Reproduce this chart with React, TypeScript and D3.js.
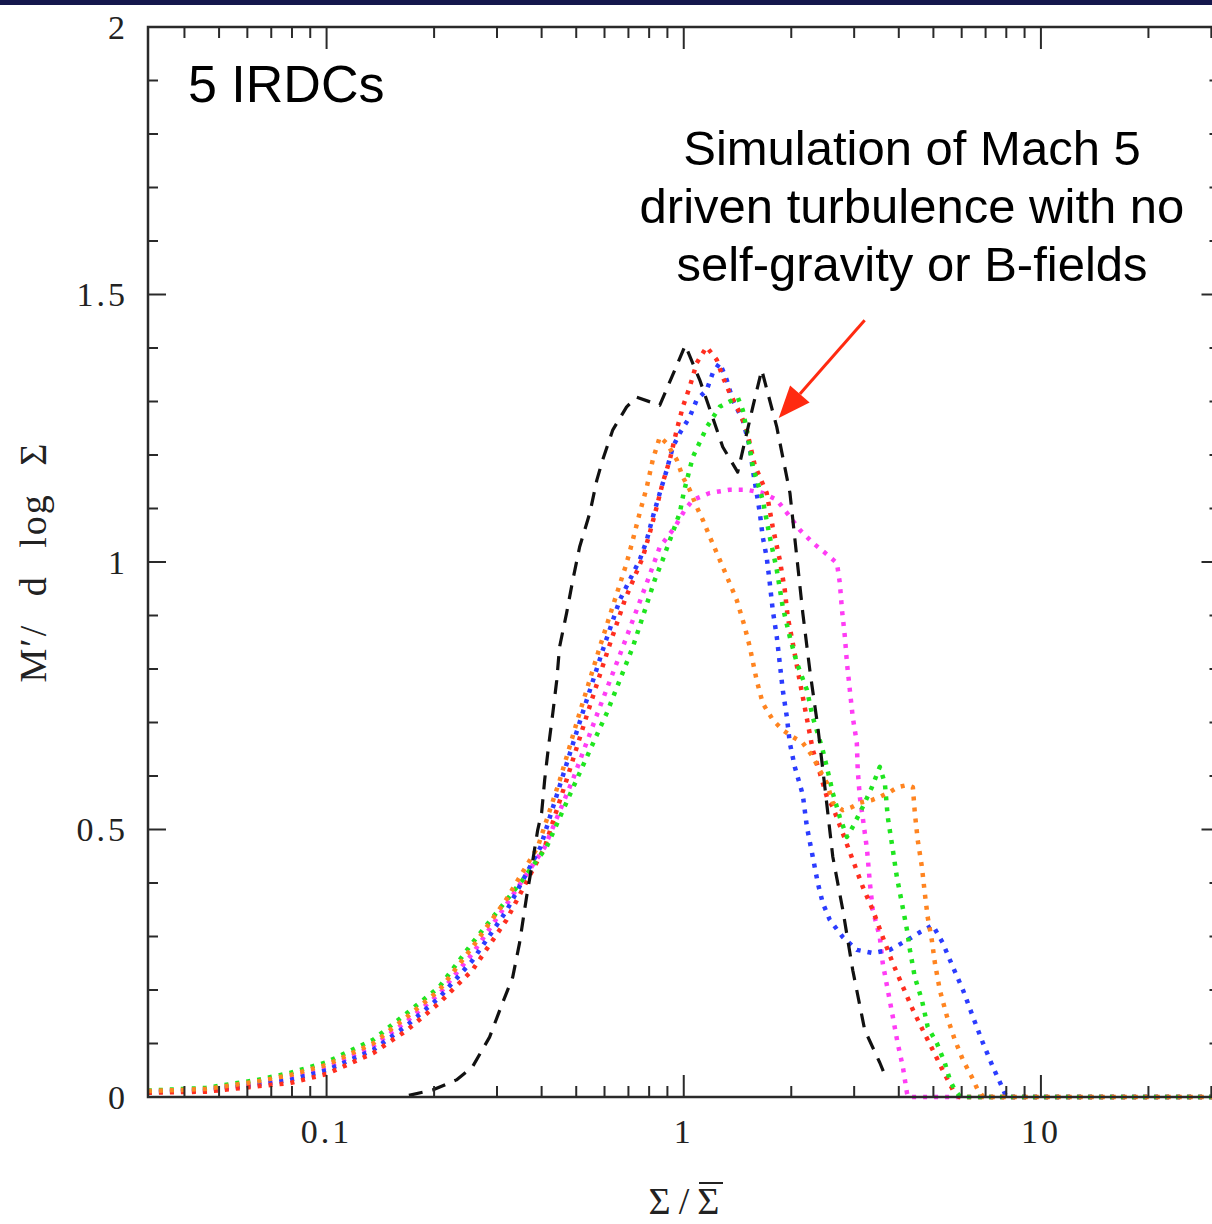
import React from 'react';
import * as d3 from 'd3';

// mass-weighted column density PDFs, [Sigma/Sigma_mean, M'/dlogSigma]
const simPdf = [
  [0.17, 0.003], [0.198, 0.013], [0.231, 0.032], [0.256, 0.056], [0.286, 0.112], [0.311, 0.176],
  [0.332, 0.224], [0.347, 0.288], [0.363, 0.374], [0.378, 0.443], [0.39, 0.499], [0.4, 0.531],
  [0.408, 0.593], [0.418, 0.654], [0.43, 0.718], [0.441, 0.779], [0.449, 0.841], [0.47, 0.905],
  [0.489, 0.966], [0.511, 1.028], [0.546, 1.092], [0.571, 1.153], [0.593, 1.191], [0.633, 1.247],
  [0.692, 1.29], [0.738, 1.308], [0.857, 1.293], [1.01, 1.405], [1.109, 1.34], [1.286, 1.215],
  [1.416, 1.168], [1.561, 1.29], [1.653, 1.359], [1.822, 1.252], [1.983, 1.129], [2.073, 1.009],
  [2.154, 0.905], [2.254, 0.798], [2.373, 0.692], [2.484, 0.579], [2.614, 0.449], [2.788, 0.35],
  [2.973, 0.237], [3.212, 0.125], [3.54, 0.064], [3.656, 0.041],
];

const redPdf = [
  [0.0316, 0.008], [0.046, 0.01], [0.064, 0.02], [0.079, 0.026], [0.1, 0.043], [0.135, 0.082],
  [0.168, 0.125], [0.207, 0.176], [0.256, 0.237], [0.319, 0.331], [0.408, 0.467], [0.47, 0.593],
  [0.538, 0.718], [0.617, 0.841], [0.684, 0.929], [0.768, 1.009], [0.803, 1.054], [0.84, 1.103],
  [0.873, 1.148], [0.914, 1.191], [0.956, 1.247], [0.994, 1.29], [1.039, 1.327], [1.087, 1.372],
  [1.159, 1.402], [1.237, 1.378], [1.286, 1.346], [1.345, 1.316], [1.435, 1.279], [1.501, 1.247],
  [1.58, 1.181], [1.707, 1.129], [1.775, 1.065], [1.857, 1.004], [1.918, 0.948], [1.955, 0.897],
  [2.019, 0.849], [2.084, 0.798], [2.154, 0.748], [2.224, 0.699], [2.297, 0.649], [2.404, 0.606],
  [2.516, 0.561], [2.614, 0.542], [2.788, 0.493], [2.973, 0.443], [3.17, 0.393], [3.381, 0.35],
  [3.607, 0.299], [3.849, 0.25], [4.107, 0.206], [4.38, 0.163], [4.67, 0.125], [4.98, 0.088],
  [5.31, 0.05], [5.67, 0.013], [5.9, 0], [31.6, 0],
];

const bluePdf = [
  [0.0316, 0.009], [0.046, 0.012], [0.064, 0.023], [0.079, 0.032], [0.1, 0.05], [0.135, 0.088],
  [0.168, 0.134], [0.207, 0.186], [0.256, 0.255], [0.319, 0.348], [0.397, 0.467], [0.455, 0.593],
  [0.521, 0.718], [0.597, 0.841], [0.662, 0.929], [0.753, 1.004], [0.788, 1.041], [0.819, 1.084],
  [0.857, 1.129], [0.896, 1.172], [0.932, 1.215], [0.975, 1.241], [1.039, 1.271], [1.087, 1.303],
  [1.159, 1.321], [1.205, 1.353], [1.261, 1.372], [1.32, 1.34], [1.371, 1.303], [1.463, 1.265],
  [1.531, 1.215], [1.561, 1.172], [1.6, 1.129], [1.633, 1.092], [1.664, 1.047], [1.707, 1.009],
  [1.741, 0.961], [1.775, 0.91], [1.822, 0.86], [1.857, 0.811], [1.893, 0.761], [1.944, 0.71],
  [1.981, 0.662], [2.046, 0.617], [2.154, 0.565], [2.212, 0.505], [2.297, 0.449], [2.373, 0.4],
  [2.449, 0.363], [2.564, 0.331], [2.788, 0.299], [3.052, 0.275], [3.381, 0.269], [3.776, 0.275],
  [4.218, 0.293], [4.583, 0.308], [4.98, 0.321], [5.31, 0.288], [5.67, 0.243], [6.05, 0.2],
  [6.45, 0.15], [6.88, 0.101], [7.34, 0.056], [7.78, 0.019], [8.0, 0], [31.6, 0],
];

const greenPdf = [
  [0.0316, 0.012], [0.046, 0.017], [0.064, 0.032], [0.079, 0.045], [0.1, 0.065], [0.135, 0.107],
  [0.168, 0.157], [0.207, 0.206], [0.256, 0.288], [0.319, 0.368], [0.354, 0.406], [0.413, 0.467],
  [0.501, 0.593], [0.609, 0.718], [0.72, 0.841], [0.829, 0.966], [0.873, 1.004], [0.975, 1.092],
  [1.0, 1.13], [1.06, 1.196], [1.16, 1.252], [1.261, 1.29], [1.416, 1.308], [1.463, 1.284],
  [1.501, 1.247], [1.561, 1.178], [1.664, 1.116], [1.741, 1.047], [1.822, 0.985], [1.893, 0.916],
  [1.981, 0.86], [2.074, 0.811], [2.212, 0.761], [2.297, 0.71], [2.449, 0.649], [2.564, 0.593],
  [2.614, 0.568], [2.735, 0.523], [2.864, 0.486], [2.973, 0.505], [3.17, 0.542], [3.363, 0.579],
  [3.539, 0.617], [3.656, 0.587], [3.726, 0.523], [3.849, 0.462], [3.951, 0.411], [4.08, 0.363],
  [4.218, 0.312], [4.297, 0.275], [4.436, 0.224], [4.643, 0.181], [4.82, 0.131], [5.11, 0.101],
  [5.38, 0.064], [5.56, 0.032], [5.74, 0.013], [5.95, 0], [31.6, 0],
];

const magentaPdf = [
  [0.0316, 0.01], [0.046, 0.014], [0.064, 0.026], [0.079, 0.037], [0.1, 0.055], [0.135, 0.095],
  [0.168, 0.142], [0.207, 0.193], [0.256, 0.268], [0.319, 0.36], [0.408, 0.467], [0.489, 0.593],
  [0.574, 0.718], [0.675, 0.841], [0.793, 0.966], [0.857, 1.028], [0.944, 1.065], [1.006, 1.097],
  [1.06, 1.116], [1.183, 1.129], [1.345, 1.135], [1.501, 1.135], [1.664, 1.129], [1.822, 1.116],
  [1.944, 1.092], [2.113, 1.06], [2.297, 1.036], [2.53, 1.013], [2.684, 0.998], [2.735, 0.961],
  [2.774, 0.91], [2.826, 0.86], [2.864, 0.811], [2.917, 0.761], [2.973, 0.71], [3.052, 0.662],
  [3.07, 0.611], [3.111, 0.561], [3.17, 0.523], [3.26, 0.462], [3.32, 0.4], [3.381, 0.35],
  [3.539, 0.299], [3.607, 0.25], [3.726, 0.2], [3.849, 0.15], [3.97, 0.101], [4.107, 0.056],
  [4.218, 0.007], [4.25, 0], [31.6, 0],
];

const orangePdf = [
  [0.0316, 0.011], [0.046, 0.015], [0.064, 0.029], [0.079, 0.041], [0.1, 0.06], [0.135, 0.1],
  [0.168, 0.15], [0.207, 0.2], [0.256, 0.28], [0.319, 0.37], [0.39, 0.467], [0.45, 0.593],
  [0.511, 0.718], [0.582, 0.841], [0.641, 0.929], [0.692, 0.998], [0.72, 1.041], [0.753, 1.092],
  [0.788, 1.14], [0.819, 1.191], [0.857, 1.234], [0.896, 1.222], [0.956, 1.191], [0.994, 1.159],
  [1.039, 1.135], [1.087, 1.103], [1.13, 1.079], [1.183, 1.047], [1.237, 1.017], [1.286, 0.991],
  [1.407, 0.929], [1.48, 0.88], [1.531, 0.841], [1.6, 0.779], [1.664, 0.736], [1.775, 0.705],
  [1.893, 0.686], [2.019, 0.673], [2.154, 0.662], [2.297, 0.636], [2.404, 0.611], [2.516, 0.587],
  [2.614, 0.55], [2.788, 0.536], [2.957, 0.542], [3.111, 0.55], [3.363, 0.555], [3.539, 0.561],
  [3.776, 0.57], [3.97, 0.579], [4.218, 0.583], [4.38, 0.579], [4.436, 0.531], [4.52, 0.48],
  [4.643, 0.43], [4.73, 0.381], [4.82, 0.336], [4.95, 0.293], [5.05, 0.25], [5.21, 0.2],
  [5.46, 0.15], [5.74, 0.107], [6.05, 0.069], [6.41, 0.037], [6.66, 0.013], [6.9, 0], [31.6, 0],
];

const xMajorValues = [0.1, 1, 10];
const xMajorLabels = ['0.1', '1', '10'];
const yMajorValues = [0, 0.5, 1, 1.5, 2];
const yMajorLabels = ['0', '0.5', '1', '1.5', '2'];

const noteLines = ['Simulation of Mach 5', 'driven turbulence with no', 'self-gravity or B-fields'];
// arrow from note to the simulation curve, in data units
const arrowFrom = [3.21, 1.452];
const arrowTo = [1.845, 1.269];

const dotted = [
  { data: magentaPdf, color: '#ff3cf5' },
  { data: bluePdf, color: '#2b3cff' },
  { data: redPdf, color: '#ff2e1f' },
  { data: greenPdf, color: '#1fe51f' },
  { data: orangePdf, color: '#ff8420' },
];

class App extends React.Component {
  render() {
    const W = 1212, H = 1224;
    const x = d3.scaleLog().domain([10 ** -1.5, 10 ** 1.5]).range([148, 1219.5]);
    const y = d3.scaleLinear().domain([0, 2]).range([1097, 27]);
    const line = d3.line<number[]>().x(d => x(d[0])).y(d => y(d[1]));

    const [x0, x1] = x.range();
    const [yb, yt] = y.range();

    const xTicks = x.ticks();
    const isDecade = (t) => Math.abs(Math.log10(t) - Math.round(Math.log10(t))) < 1e-6;
    const yTicks = y.ticks(20);
    const isHalf = (t) => Math.abs(t * 2 - Math.round(t * 2)) < 1e-6;

    let ticks = [];
    xTicks.forEach((t, i) => {
      const len = isDecade(t) ? 22 : 11;
      ticks.push(<line key={'xb' + i} x1={x(t)} x2={x(t)} y1={yb} y2={yb - len} />);
      ticks.push(<line key={'xt' + i} x1={x(t)} x2={x(t)} y1={yt} y2={yt + len} />);
    });
    yTicks.forEach((t, i) => {
      const len = isHalf(t) ? 18 : 10;
      ticks.push(<line key={'yl' + i} x1={x0} x2={x0 + len} y1={y(t)} y2={y(t)} />);
      ticks.push(<line key={'yr' + i} x1={x1} x2={x1 - len} y1={y(t)} y2={y(t)} />);
    });

    // arrow head
    const ax0 = x(arrowFrom[0]), ay0 = y(arrowFrom[1]);
    const ax1 = x(arrowTo[0]), ay1 = y(arrowTo[1]);
    const ang = Math.atan2(ay1 - ay0, ax1 - ax0);
    const hl = 32, hw = 13;
    const bx = ax1 - hl * Math.cos(ang), by = ay1 - hl * Math.sin(ang);
    const head = [
      [ax1, ay1],
      [bx + hw * Math.sin(ang), by - hw * Math.cos(ang)],
      [bx - hw * Math.sin(ang), by + hw * Math.cos(ang)],
    ];

    const serif = "'Liberation Serif', 'Times New Roman', serif";
    const sans = "'Liberation Sans', Arial, Helvetica, sans-serif";

    return (
      <div style={{ position: 'absolute', left: 0, top: 0 }}>
        <svg width={W} height={H} style={{ display: 'block', background: '#fff' }}>
          <rect x={0} y={0} width={W} height={5} fill="#14174c" />

          <g fill="none" strokeLinecap="butt" strokeLinejoin="round">
            {dotted.map((s, i) => (
              <path key={i} d={line(s.data)} stroke={s.color} strokeWidth={4.5} strokeDasharray="4 7" />
            ))}
            <path d={line(simPdf)} stroke="#111" strokeWidth={3.2} strokeDasharray="14 10" />
          </g>

          <g stroke="#2a2a2a" strokeWidth={2}>
            {ticks}
          </g>
          <rect x={x0} y={yt} width={x1 - x0} height={yb - yt} fill="none" stroke="#2a2a2a" strokeWidth={2.5} />

          <g fontFamily={serif} fontSize={34} fill="#222" letterSpacing={3}>
            {xMajorValues.map((v, i) => (
              <text key={i} x={x(v)} y={1143} textAnchor="middle">{xMajorLabels[i]}</text>
            ))}
            {yMajorValues.map((v, i) => (
              <text key={i} x={128} y={y(v)} dy="0.35em" textAnchor="end">{yMajorLabels[i]}</text>
            ))}
          </g>

          <text transform="translate(46,562) rotate(-90)" fontFamily={serif} fontSize={38} fill="#222"
            textAnchor="middle" letterSpacing={2} wordSpacing={16}>M′/ d log Σ</text>
          <text x={688} y={1214} fontFamily={serif} fontSize={38} fill="#222" textAnchor="middle"
            letterSpacing={8}>Σ/Σ</text>
          <line x1={699} x2={723} y1={1183} y2={1183} stroke="#222" strokeWidth={2} />

          <text x={188} y={102} fontFamily={sans} fontSize={52} fill="#000">5 IRDCs</text>
          <g fontFamily={sans} fontSize={49} fill="#000" textAnchor="middle">
            {noteLines.map((t, i) => (
              <text key={i} x={912} y={165 + i * 58}>{t}</text>
            ))}
          </g>

          <line x1={ax0} y1={ay0} x2={bx} y2={by} stroke="#ff2a10" strokeWidth={3} />
          <polygon points={head.map(p => p.join(',')).join(' ')} fill="#ff2a10" />
        </svg>
      </div>
    );
  }
}

export default App;
